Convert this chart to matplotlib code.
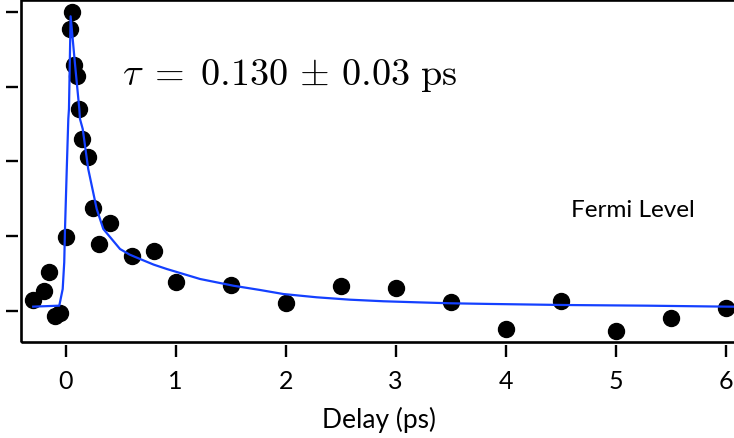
import matplotlib
matplotlib.use("Agg")
import matplotlib.pyplot as plt
from matplotlib.patches import Rectangle

# Measured signal at the Fermi level vs pump-probe delay
delay_ps = [-0.30, -0.20, -0.15, -0.10, -0.05, 0.00, 0.04, 0.06, 0.075, 0.10,
            0.12, 0.15, 0.20, 0.25, 0.30, 0.40, 0.60, 0.80, 1.0, 1.5,
            2.0, 2.5, 3.0, 3.5, 4.0, 4.5, 5.0, 5.5, 6.0]
signal = [0.151, 0.272, 0.518, -0.071, -0.021, 0.986, 3.773, 3.996, 3.295, 3.140,
          2.702, 2.301, 2.056, 1.378, 0.896, 1.177, 0.732, 0.799, 0.384, 0.348,
          0.107, 0.338, 0.304, 0.116, -0.241, 0.130, -0.272, -0.094, 0.040]

# Fitted curve
fit_delay = [-0.295, -0.058, -0.027, -0.013, -0.006, 0.010, 0.024, 0.030, 0.045,
             0.085, 0.124, 0.130, 0.155, 0.205, 0.282, 0.342, 0.418, 0.494,
             0.580, 0.675, 0.800, 0.918, 1.221, 1.524, 1.766, 1.978, 2.282,
             2.585, 2.887, 3.191, 3.494, 3.857, 4.524, 5.282, 6.009, 6.100]
fit_signal = [0.058, 0.071, 0.294, 0.652, 1.097, 1.900, 2.569, 2.702, 3.942,
              3.300, 2.702, 2.569, 2.435, 1.900, 1.365, 1.097, 0.963, 0.829,
              0.755, 0.696, 0.620, 0.562, 0.428, 0.338, 0.281, 0.227, 0.183,
              0.151, 0.130, 0.116, 0.103, 0.094, 0.080, 0.071, 0.058, 0.057]

x_ticks = [0, 1, 2, 3, 4, 5, 6]
y_ticks = [0, 1, 2, 3, 4]

plt.rcParams['mathtext.fontset'] = 'cm'

fig = plt.figure(figsize=(7.34, 4.39), dpi=100)
W, H = 734, 439
left_px, right_px, top_px, bottom_px = 21, 736, 1, 343
ax = fig.add_axes([left_px / W, (H - bottom_px) / H,
                   (right_px - left_px) / W, (bottom_px - top_px) / H])

ax.plot(delay_ps, signal, 'o', color='black', markersize=11.5, zorder=2)
ax.plot(fit_delay, fit_signal, '-', color='#1440ff', linewidth=1.6, zorder=3)

ax.set_xlim(-0.406, 6.093)
ax.set_ylim(-0.415, 4.16)

# frame drawn separately so the ticks can sit a little away from it
for s in ax.spines.values():
    s.set_visible(False)
ax.spines['left'].set_position(('outward', 2.4))
ax.spines['bottom'].set_position(('outward', 2.2))
ax.add_patch(Rectangle((0, 0), 1, 1, transform=ax.transAxes, fill=False,
                       edgecolor='black', linewidth=1.9, clip_on=False, zorder=5))

ax.set_xticks(x_ticks)
ax.set_yticks(y_ticks)
ax.set_yticklabels([])
ax.tick_params(axis='both', direction='out', length=8.6, width=1.7, color='black')
ax.tick_params(axis='x', labelsize=18, pad=8.5)
for lbl in ax.get_xticklabels():
    lbl.set_family('Lato')

ax.set_xlabel('Delay (ps)', fontsize=19, family='Lato', labelpad=10)

ax.text(0.51, 3.17, r'$\tau\;=\;0.130\,\pm\,0.03\ \mathrm{ps}$', fontsize=27.5,
        ha='left', va='center', color='black')
ax.text(4.59, 1.36, 'Fermi Level', fontsize=17.5, family='Lato',
        ha='left', va='center', color='black')

fig.savefig('out.png', dpi=100)
